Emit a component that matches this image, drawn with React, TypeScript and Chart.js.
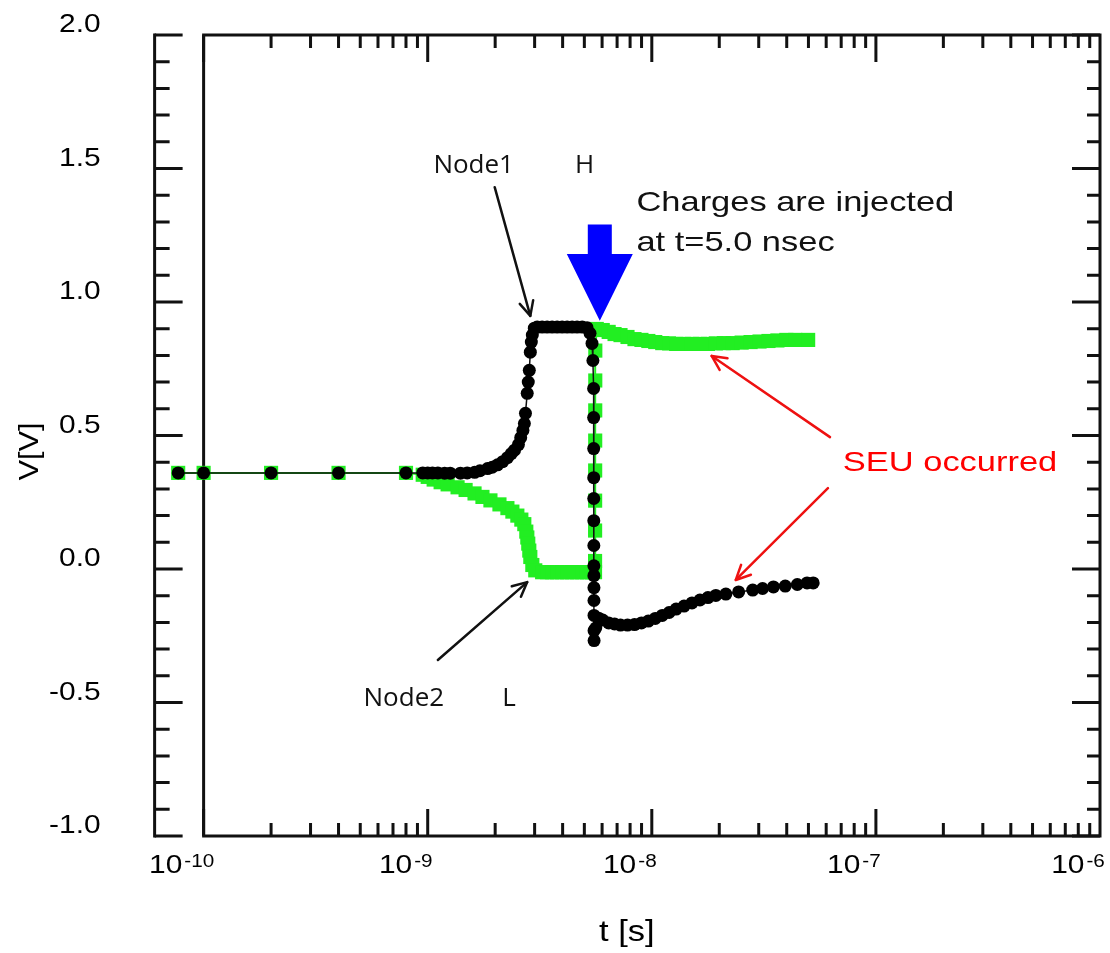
import React, { useEffect, useRef } from "react";
import { Chart, registerables } from "chart.js";

Chart.register(...registerables);

// ---- Data (time in seconds, voltage in V) ----
const node1Time = [
  7.7e-11, 1.0e-10, 2.0e-10, 4.0e-10, 8.0e-10, 9.5e-10, 1.0e-9, 1.05e-9, 1.11e-9, 1.19e-9,
  1.26e-9, 1.4e-9, 1.5e-9, 1.62e-9, 1.71e-9, 1.85e-9, 1.94e-9, 2.05e-9, 2.16e-9, 2.27e-9,
  2.36e-9, 2.44e-9, 2.54e-9, 2.6e-9, 2.66e-9, 2.7e-9, 2.73e-9, 2.78e-9, 2.81e-9, 2.84e-9,
  2.87e-9, 2.9e-9, 2.93e-9, 2.99e-9, 3.08e-9, 3.24e-9, 3.41e-9, 3.59e-9, 3.78e-9, 3.98e-9,
  4.19e-9, 4.41e-9, 4.64e-9, 4.89e-9, 5.14e-9, 5.3e-9, 5.41e-9, 5.46e-9, 5.5e-9, 5.502e-9,
  5.504e-9, 5.506e-9, 5.508e-9, 5.51e-9, 5.512e-9, 5.514e-9, 5.516e-9, 5.518e-9, 5.52e-9, 5.522e-9,
  5.524e-9, 5.526e-9, 5.62e-9, 5.79e-9, 6.04e-9, 6.42e-9, 6.82e-9, 7.25e-9, 7.79e-9, 8.37e-9,
  8.99e-9, 9.65e-9, 1.036e-8, 1.113e-8, 1.195e-8, 1.284e-8, 1.393e-8, 1.511e-8, 1.64e-8, 1.78e-8,
  1.931e-8, 2.14e-8, 2.44e-8, 2.82e-8, 3.12e-8, 3.49e-8, 3.94e-8, 4.46e-8, 4.93e-8, 5.25e-8,
];
const node1V = [
  0.36, 0.36, 0.36, 0.36, 0.36, 0.36, 0.36, 0.36, 0.36, 0.359,
  0.359, 0.359, 0.36, 0.362, 0.368, 0.376, 0.381, 0.39, 0.402, 0.417,
  0.432, 0.445, 0.466, 0.492, 0.519, 0.545, 0.583, 0.658, 0.7, 0.744,
  0.812, 0.85, 0.876, 0.902, 0.906, 0.906, 0.906, 0.906, 0.906, 0.906,
  0.906, 0.906, 0.906, 0.906, 0.904, 0.883, 0.845, 0.781, 0.676, 0.567,
  0.451, 0.342, 0.264, 0.181, 0.088, 0.012, -0.025, -0.07, -0.118, -0.174,
  -0.231, -0.268, -0.221, -0.184, -0.191, -0.202, -0.206, -0.21, -0.21, -0.208,
  -0.202, -0.195, -0.185, -0.174, -0.163, -0.15, -0.139, -0.127, -0.116, -0.107,
  -0.099, -0.094, -0.086, -0.079, -0.073, -0.067, -0.064, -0.058, -0.052, -0.052,
];

const node2Time = [
  7.7e-11, 1.0e-10, 2.0e-10, 4.0e-10, 8.0e-10, 9.5e-10, 1.0e-9, 1.063e-9, 1.142e-9, 1.227e-9,
  1.359e-9, 1.476e-9, 1.618e-9, 1.755e-9, 1.905e-9, 2.09e-9, 2.268e-9, 2.387e-9, 2.512e-9, 2.617e-9,
  2.698e-9, 2.754e-9, 2.783e-9, 2.81e-9, 2.84e-9, 2.87e-9, 2.93e-9, 3.02e-9, 3.24e-9, 3.41e-9,
  3.59e-9, 3.78e-9, 3.98e-9, 4.19e-9, 4.41e-9, 4.64e-9, 4.89e-9, 5.14e-9, 5.41e-9, 5.58e-9,
  5.582e-9, 5.584e-9, 5.586e-9, 5.588e-9, 5.59e-9, 5.592e-9, 5.594e-9, 5.596e-9, 5.68e-9, 6.04e-9,
  6.42e-9, 6.82e-9, 7.25e-9, 7.79e-9, 8.37e-9, 8.99e-9, 9.65e-9, 1.036e-8, 1.113e-8, 1.195e-8,
  1.284e-8, 1.393e-8, 1.511e-8, 1.64e-8, 1.78e-8, 1.931e-8, 2.096e-8, 2.296e-8, 2.517e-8, 2.759e-8,
  3.025e-8, 3.316e-8, 3.635e-8, 3.984e-8, 4.368e-8, 4.985e-8,
];
const node2V = [
  0.36, 0.36, 0.36, 0.36, 0.36, 0.353, 0.345, 0.335, 0.325, 0.317,
  0.306, 0.296, 0.283, 0.27, 0.257, 0.242, 0.228, 0.215, 0.2, 0.185,
  0.168, 0.14, 0.118, 0.095, 0.069, 0.045, 0.015, -0.005, -0.012, -0.012,
  -0.012, -0.012, -0.012, -0.012, -0.012, -0.012, -0.012, -0.012, -0.012, -0.012,
  0.03, 0.144, 0.256, 0.369, 0.481, 0.594, 0.706, 0.818, 0.899, 0.895,
  0.888, 0.88, 0.876, 0.869, 0.861, 0.858, 0.854, 0.85, 0.846, 0.845,
  0.843, 0.843, 0.843, 0.843, 0.843, 0.845, 0.846, 0.846, 0.848, 0.85,
  0.852, 0.854, 0.856, 0.858, 0.858, 0.858,
];

const yTickValues = [-1, -0.5, 0, 0.5, 1, 1.5, 2];
const xDecadeExponents = [-10, -9, -8, -7, -6];
const xFrameMin = 1e-10; // left edge of the plotted frame
const xScaleMin = Math.pow(10, -10.15); // scale extends a little left of the frame
const xTitle = "t [s]";
const yTitle = "V[V]";

// annotations, anchored in data coordinates [t, V]
const node1Label = { text: "Node1", mark: "H", at: [1.06e-9, 1.52], markAt: [4.54e-9, 1.52] };
const node2Label = { text: "Node2", mark: "L", at: [5.17e-10, -0.475], markAt: [2.15e-9, -0.475] };
const node1Arrow = [[1.99e-9, 1.43], [2.87e-9, 0.948]];
const node2Arrow = [[1.11e-9, -0.341], [2.78e-9, -0.049]];
const injectText = ["Charges are injected", "at t=5.0 nsec"];
const injectAt = [8.54e-9, 1.38];
const injectArrow = { t: 5.86e-9, top: 1.29, base: 1.18, tip: 0.93 };
const seuText = "SEU occurred";
const seuAt = [7.12e-8, 0.37];
const seuArrows = [
  [[6.24e-8, 0.494], [1.85e-8, 0.798]],
  [[6.11e-8, 0.303], [2.37e-8, -0.041]],
];

const FONT = '"Liberation Sans", Arial, sans-serif';
const SX = 1.15;

function drawText(
  ctx: CanvasRenderingContext2D,
  s: string,
  x: number,
  y: number,
  size: number,
  color: string,
  align: CanvasTextAlign = "left",
  font: string = FONT,
  sx: number = SX
) {
  ctx.save();
  ctx.translate(x, y);
  ctx.scale(sx, 1);
  ctx.font = `${size}px ${font}`;
  ctx.fillStyle = color;
  ctx.textAlign = align;
  ctx.textBaseline = "alphabetic";
  ctx.fillText(s, 0, 0);
  ctx.restore();
}

function drawArrow(
  ctx: CanvasRenderingContext2D,
  x1: number,
  y1: number,
  x2: number,
  y2: number,
  color: string,
  width: number,
  head = 16
) {
  ctx.save();
  ctx.strokeStyle = color;
  ctx.lineWidth = width;
  ctx.lineCap = "round";
  ctx.lineJoin = "round";
  ctx.beginPath();
  ctx.moveTo(x1, y1);
  ctx.lineTo(x2, y2);
  ctx.stroke();
  const a = Math.atan2(y2 - y1, x2 - x1);
  ctx.beginPath();
  ctx.moveTo(x2 - head * Math.cos(a - 0.45), y2 - head * Math.sin(a - 0.45));
  ctx.lineTo(x2, y2);
  ctx.lineTo(x2 - head * Math.cos(a + 0.45), y2 - head * Math.sin(a + 0.45));
  ctx.stroke();
  ctx.restore();
}

const framePlugin = {
  id: "frameTicks",
  beforeDatasetsDraw(chart: any) {
    const ctx: CanvasRenderingContext2D = chart.ctx;
    const { right, top, bottom } = chart.chartArea;
    const xs = chart.scales.x;
    const ys = chart.scales.y;
    const left = xs.getPixelForValue(xFrameMin);
    ctx.save();
    ctx.strokeStyle = "#111";
    ctx.lineWidth = 3;
    ctx.lineCap = "butt";
    ctx.strokeRect(left, top, right - left, bottom - top);
    const axX = left - 49;
    ctx.beginPath();
    ctx.moveTo(axX, top - 1.5);
    ctx.lineTo(axX, bottom + 1.5);
    ctx.stroke();
    // y ticks
    for (let i = -10; i <= 20; i++) {
      const v = i / 10;
      const major = i % 5 === 0;
      const y = ys.getPixelForValue(v);
      ctx.beginPath();
      ctx.moveTo(axX, y);
      ctx.lineTo(axX + (major ? 28 : 15), y);
      ctx.moveTo(right, y);
      ctx.lineTo(right - (major ? 28 : 13), y);
      ctx.stroke();
    }
    // x ticks
    for (let k = -10; k <= -7; k++) {
      for (let m = 1; m <= 9; m++) {
        const t = m * Math.pow(10, k);
        const x = xs.getPixelForValue(t);
        const len = m === 1 ? 27 : 13;
        ctx.beginPath();
        ctx.moveTo(x, top);
        ctx.lineTo(x, top + len);
        ctx.moveTo(x, bottom);
        ctx.lineTo(x, bottom - len);
        ctx.stroke();
      }
    }
    ctx.restore();
  },
  afterDraw(chart: any) {
    const ctx: CanvasRenderingContext2D = chart.ctx;
    const { right, top, bottom } = chart.chartArea;
    const xs = chart.scales.x;
    const ys = chart.scales.y;
    const px = (t: number) => xs.getPixelForValue(t);
    const py = (v: number) => ys.getPixelForValue(v);
    const left = px(xFrameMin);

    // y tick labels
    for (const v of yTickValues) {
      drawText(ctx, v.toFixed(1), left - 103, py(v) - 3, 26, "#000", "right");
    }
    // x tick labels with superscript exponents
    for (const e of xDecadeExponents) {
      const cx = px(Math.pow(10, e)) - 22;
      ctx.save();
      ctx.font = `26px ${FONT}`;
      const w1 = ctx.measureText("10").width * SX;
      ctx.font = `18px ${FONT}`;
      const w2 = ctx.measureText(String(e)).width * SX;
      ctx.restore();
      const x0 = cx - (w1 + w2 + 2) / 2;
      drawText(ctx, "10", x0, bottom + 37, 26, "#000", "left");
      drawText(ctx, String(e), x0 + w1 + 2, bottom + 31, 18, "#000", "left");
    }
    // axis titles
    drawText(ctx, xTitle, (left + right) / 2 - 25, 941, 30, "#000", "center");
    ctx.save();
    ctx.translate(38, (top + bottom) / 2 + 16);
    ctx.rotate(-Math.PI / 2);
    drawText(ctx, yTitle, 0, 0, 28, "#000", "center", FONT, 1.1);
    ctx.restore();

    // Node labels
    const nodeFont = '"Open Sans", sans-serif';
    drawText(ctx, node1Label.text, px(node1Label.at[0]), py(node1Label.at[1]) + 10, 26, "#111", "left", nodeFont, 1.0);
    drawText(ctx, node1Label.mark, px(node1Label.markAt[0]), py(node1Label.markAt[1]) + 10, 26, "#111", "left", nodeFont, 1.0);
    drawText(ctx, node2Label.text, px(node2Label.at[0]), py(node2Label.at[1]) + 10, 26, "#111", "left", nodeFont, 1.0);
    drawText(ctx, node2Label.mark, px(node2Label.markAt[0]), py(node2Label.markAt[1]) + 10, 26, "#111", "left", nodeFont, 1.0);
    drawArrow(ctx, px(node1Arrow[0][0]), py(node1Arrow[0][1]), px(node1Arrow[1][0]), py(node1Arrow[1][1]), "#111", 2.5);
    drawArrow(ctx, px(node2Arrow[0][0]), py(node2Arrow[0][1]), px(node2Arrow[1][0]), py(node2Arrow[1][1]), "#111", 2.5);

    // Injection text + blue arrow
    drawText(ctx, injectText[0], px(injectAt[0]), py(injectAt[1]) + 10, 28, "#111", "left", FONT, 1.23);
    drawText(ctx, injectText[1], px(injectAt[0]), py(injectAt[1]) + 50, 28, "#111", "left", FONT, 1.23);
    const bx = px(injectArrow.t);
    ctx.save();
    ctx.fillStyle = "#0000ff";
    ctx.beginPath();
    ctx.moveTo(bx - 12, py(injectArrow.top));
    ctx.lineTo(bx + 12, py(injectArrow.top));
    ctx.lineTo(bx + 12, py(injectArrow.base));
    ctx.lineTo(bx + 33, py(injectArrow.base));
    ctx.lineTo(bx, py(injectArrow.tip));
    ctx.lineTo(bx - 33, py(injectArrow.base));
    ctx.lineTo(bx - 12, py(injectArrow.base));
    ctx.closePath();
    ctx.fill();
    ctx.restore();

    // SEU
    drawText(ctx, seuText, px(seuAt[0]), py(seuAt[1]) + 1, 28, "#ff0000", "left", FONT, 1.23);
    for (const a of seuArrows) {
      drawArrow(ctx, px(a[0][0]), py(a[0][1]), px(a[1][0]), py(a[1][1]), "#ee1111", 2.5);
    }
  },
};

export default function App() {
  const ref = useRef<HTMLCanvasElement | null>(null);
  useEffect(() => {
    document.body.style.margin = "0";
    const canvas = ref.current;
    if (!canvas) return;
    const node1 = node1Time.map((t, i) => ({ x: t, y: node1V[i] }));
    const node2 = node2Time.map((t, i) => ({ x: t, y: node2V[i] }));
    const chart = new Chart(canvas, {
      type: "scatter",
      data: {
        datasets: [
          {
            label: "Node1",
            data: node1,
            showLine: true,
            borderColor: "#111",
            borderWidth: 1.5,
            pointStyle: "circle",
            pointRadius: 6.5,
            pointBackgroundColor: "#000",
            pointBorderWidth: 0,
            clip: false,
          } as any,
          {
            label: "Node2",
            data: node2,
            showLine: true,
            borderColor: "#22ee22",
            borderWidth: 2,
            pointStyle: "rect",
            pointRadius: 10,
            pointBackgroundColor: "#22ee22",
            pointBorderWidth: 0,
            clip: false,
          } as any,
        ],
      },
      options: {
        animation: false,
        responsive: false,
        devicePixelRatio: 1,
        layout: { padding: { top: 35, right: 3, bottom: 0, left: 0 } },
        plugins: { legend: { display: false }, tooltip: { enabled: false } },
        scales: {
          x: {
            type: "logarithmic",
            min: xScaleMin,
            max: 1e-6,
            grid: { display: false, drawTicks: false },
            border: { display: false },
            ticks: { display: false },
            afterFit: (s: any) => {
              s.height = 117;
            },
          },
          y: {
            type: "linear",
            min: -1,
            max: 2,
            grid: { display: false, drawTicks: false },
            border: { display: false },
            ticks: { display: false, stepSize: 0.5 },
            afterFit: (s: any) => {
              s.width = 170;
            },
          },
        },
      },
      plugins: [framePlugin],
    });
    return () => chart.destroy();
  }, []);
  return (
    <div style={{ width: 1110, height: 953 }}>
      <canvas ref={ref} width={1110} height={953} style={{ display: "block" }} />
    </div>
  );
}
